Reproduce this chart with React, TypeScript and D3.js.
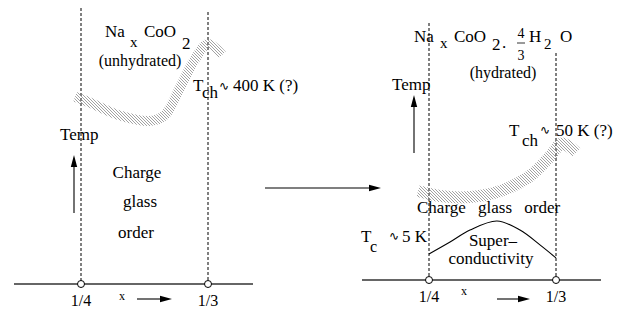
import React from 'react';
import * as d3 from 'd3';

// composition x (1/4 .. 1/3) and schematic temperature t (0..100)
const compositions = [1 / 4, 1 / 3];
const compLabels = ['1/4', '1/3'];

const bandUnhydrated: [number, number][] = [
  [0.2461, 72], [0.2559, 69.8], [0.2756, 64.8], [0.2953, 62.7], [0.3051, 65],
  [0.315, 75.5], [0.3248, 86.5], [0.3333, 92.3], [0.3425, 88.1],
];
const bandHydrated: [number, number][] = [
  [0.2428, 34.2], [0.2572, 32.3], [0.2769, 31.9], [0.2966, 34.2], [0.3163, 40],
  [0.3294, 47.5], [0.3373, 52.5], [0.3465, 49],
];
const scDome: [number, number][] = [
  [0.25, 10], [0.2638, 14.6], [0.2769, 19.2], [0.2946, 22.7], [0.3097, 19.2],
  [0.3228, 13.5], [0.3333, 8.5],
];

const W = 628;
const H = 315;
const serif = '"Liberation Serif", "Times New Roman", serif';

const xL = d3.scaleLinear().domain(compositions).range([81, 208]);
const xR = d3.scaleLinear().domain(compositions).range([429, 556]);
const yL = d3.scaleLinear().domain([0, 100]).range([284, 24]);
const yR = d3.scaleLinear().domain([0, 100]).range([280, 20]);

const lineL = d3.line<[number, number]>().x(d => xL(d[0])).y(d => yL(d[1])).curve(d3.curveCatmullRom);
const lineR = d3.line<[number, number]>().x(d => xR(d[0])).y(d => yR(d[1])).curve(d3.curveCatmullRom);

const T = (props: any) => (
  <text fontFamily={serif} fontSize={16} fill="#000" {...props} />
);

const Arrow = ({ x1, y1, x2, y2 }: { x1: number; y1: number; x2: number; y2: number }) => {
  const a = Math.atan2(y2 - y1, x2 - x1);
  const L = 12, w = 3.2;
  const bx = x2 - L * Math.cos(a), by = y2 - L * Math.sin(a);
  const px = -Math.sin(a) * w, py = Math.cos(a) * w;
  return (
    <g>
      <line x1={x1} y1={y1} x2={bx} y2={by} stroke="#000" strokeWidth={1.1} />
      <path d={`M${x2},${y2}L${bx + px},${by + py}L${bx - px},${by - py}Z`} fill="#000" />
    </g>
  );
};

const Tilde = ({ x, y }: { x: number; y: number }) => (
  <text x={x} y={y} fontFamily='"DejaVu Sans", sans-serif' fontSize={12} fill="#000">∿</text>
);

export default function App() {
  return (
    <svg width={W} height={H} style={{ position: 'absolute', left: 0, top: 0, background: '#fff' }}>
      <defs>
        <pattern id="hatch" width={3} height={3} patternUnits="userSpaceOnUse">
          <path d="M0,0L3,3M-1,2L1,4M2,-1L4,1" stroke="#8a8a8a" strokeWidth={0.8} />
        </pattern>
      </defs>

      {/* left panel: unhydrated */}
      <line x1={14} x2={253} y1={yL(0)} y2={yL(0)} stroke="#333" strokeWidth={1.4} />
      {compositions.map((c, i) => (
        <g key={'l' + i}>
          <line x1={xL(c)} x2={xL(c)} y1={i === 0 ? 8 : 12} y2={yL(0)} stroke="#000" strokeWidth={1} strokeDasharray="3,2" />
          <circle cx={xL(c)} cy={yL(0)} r={3.5} fill="#fff" stroke="#000" strokeWidth={1} />
          <T x={xL(c)} y={306} textAnchor="middle">{compLabels[i]}</T>
        </g>
      ))}
      <T x={119} y={300} fontSize={12}>x</T>
      <Arrow x1={137} y1={299} x2={172} y2={299} />
      <path d={lineL(bandUnhydrated) || ''} fill="none" stroke="url(#hatch)" strokeWidth={10} />
      <Arrow x1={74} y1={213} x2={74} y2={155} />
      <T x={60} y={140} fontSize={17}>Temp</T>
      <T x={105} y={37} fontSize={17}>Na</T>
      <T x={130} y={47} fontSize={15}>x</T>
      <T x={144} y={37} fontSize={17}>CoO</T>
      <T x={182} y={49} fontSize={17}>2</T>
      <T x={140} y={66} textAnchor="middle">(unhydrated)</T>
      <T x={193} y={91} fontSize={17}>T</T>
      <T x={202} y={98} fontSize={17}>ch</T>
      <Tilde x={219} y={90} />
      <T x={233} y={91} fontSize={17}>400 K (?)</T>
      <T x={137} y={178} textAnchor="middle" fontSize={17}>Charge</T>
      <T x={140} y={207} textAnchor="middle" fontSize={17}>glass</T>
      <T x={136} y={238} textAnchor="middle" fontSize={17}>order</T>

      {/* middle arrow */}
      <Arrow x1={265} y1={188} x2={381} y2={188} />

      {/* right panel: hydrated */}
      <line x1={362} x2={601} y1={yR(0)} y2={yR(0)} stroke="#333" strokeWidth={1.4} />
      {compositions.map((c, i) => (
        <g key={'r' + i}>
          <line x1={xR(c)} x2={xR(c)} y1={i === 0 ? 23 : 53} y2={yR(0)} stroke="#000" strokeWidth={1} strokeDasharray="3,2" />
          <circle cx={xR(c)} cy={yR(0)} r={3.5} fill="#fff" stroke="#000" strokeWidth={1} />
          <T x={xR(c)} y={302} textAnchor="middle">{compLabels[i]}</T>
        </g>
      ))}
      <T x={461} y={295} fontSize={12}>x</T>
      <Arrow x1={497} y1={299} x2={530} y2={299} />
      <path d={lineR(bandHydrated) || ''} fill="none" stroke="url(#hatch)" strokeWidth={12} />
      <path d={lineR(scDome) || ''} fill="none" stroke="#000" strokeWidth={1.1} />
      <Arrow x1={414} y1={153} x2={414} y2={95} />
      <T x={392} y={90} fontSize={17}>Temp</T>
      <T x={414} y={42} fontSize={17}>Na</T>
      <T x={440} y={48} fontSize={15}>x</T>
      <T x={454} y={42} fontSize={17}>CoO</T>
      <T x={492} y={50} fontSize={17}>2</T>
      <T x={502} y={48} fontSize={17}>.</T>
      <T x={521} y={38} fontSize={14} textAnchor="middle">4</T>
      <line x1={517} x2={525} y1={43} y2={43} stroke="#000" strokeWidth={0.8} />
      <T x={521} y={60} fontSize={14} textAnchor="middle">3</T>
      <T x={529} y={42} fontSize={17}>H</T>
      <T x={544} y={49} fontSize={15}>2</T>
      <T x={560} y={42} fontSize={17}>O</T>
      <T x={503} y={78} textAnchor="middle" fontSize={16}>(hydrated)</T>
      <T x={509} y={136} fontSize={17}>T</T>
      <T x={522} y={146} fontSize={17}>ch</T>
      <Tilde x={540} y={134} />
      <T x={556} y={136} fontSize={17}>50 K (?)</T>
      <T x={417} y={213} fontSize={17} wordSpacing={8}>Charge glass order</T>
      <T x={361} y={242} fontSize={17}>T</T>
      <T x={370} y={252} fontSize={16}>c</T>
      <Tilde x={389} y={240} />
      <T x={402} y={242} fontSize={17}>5 K</T>
      <T x={493} y={246} textAnchor="middle" fontSize={17}>Super–</T>
      <T x={491} y={264} textAnchor="middle" fontSize={17}>conductivity</T>
    </svg>
  );
}
